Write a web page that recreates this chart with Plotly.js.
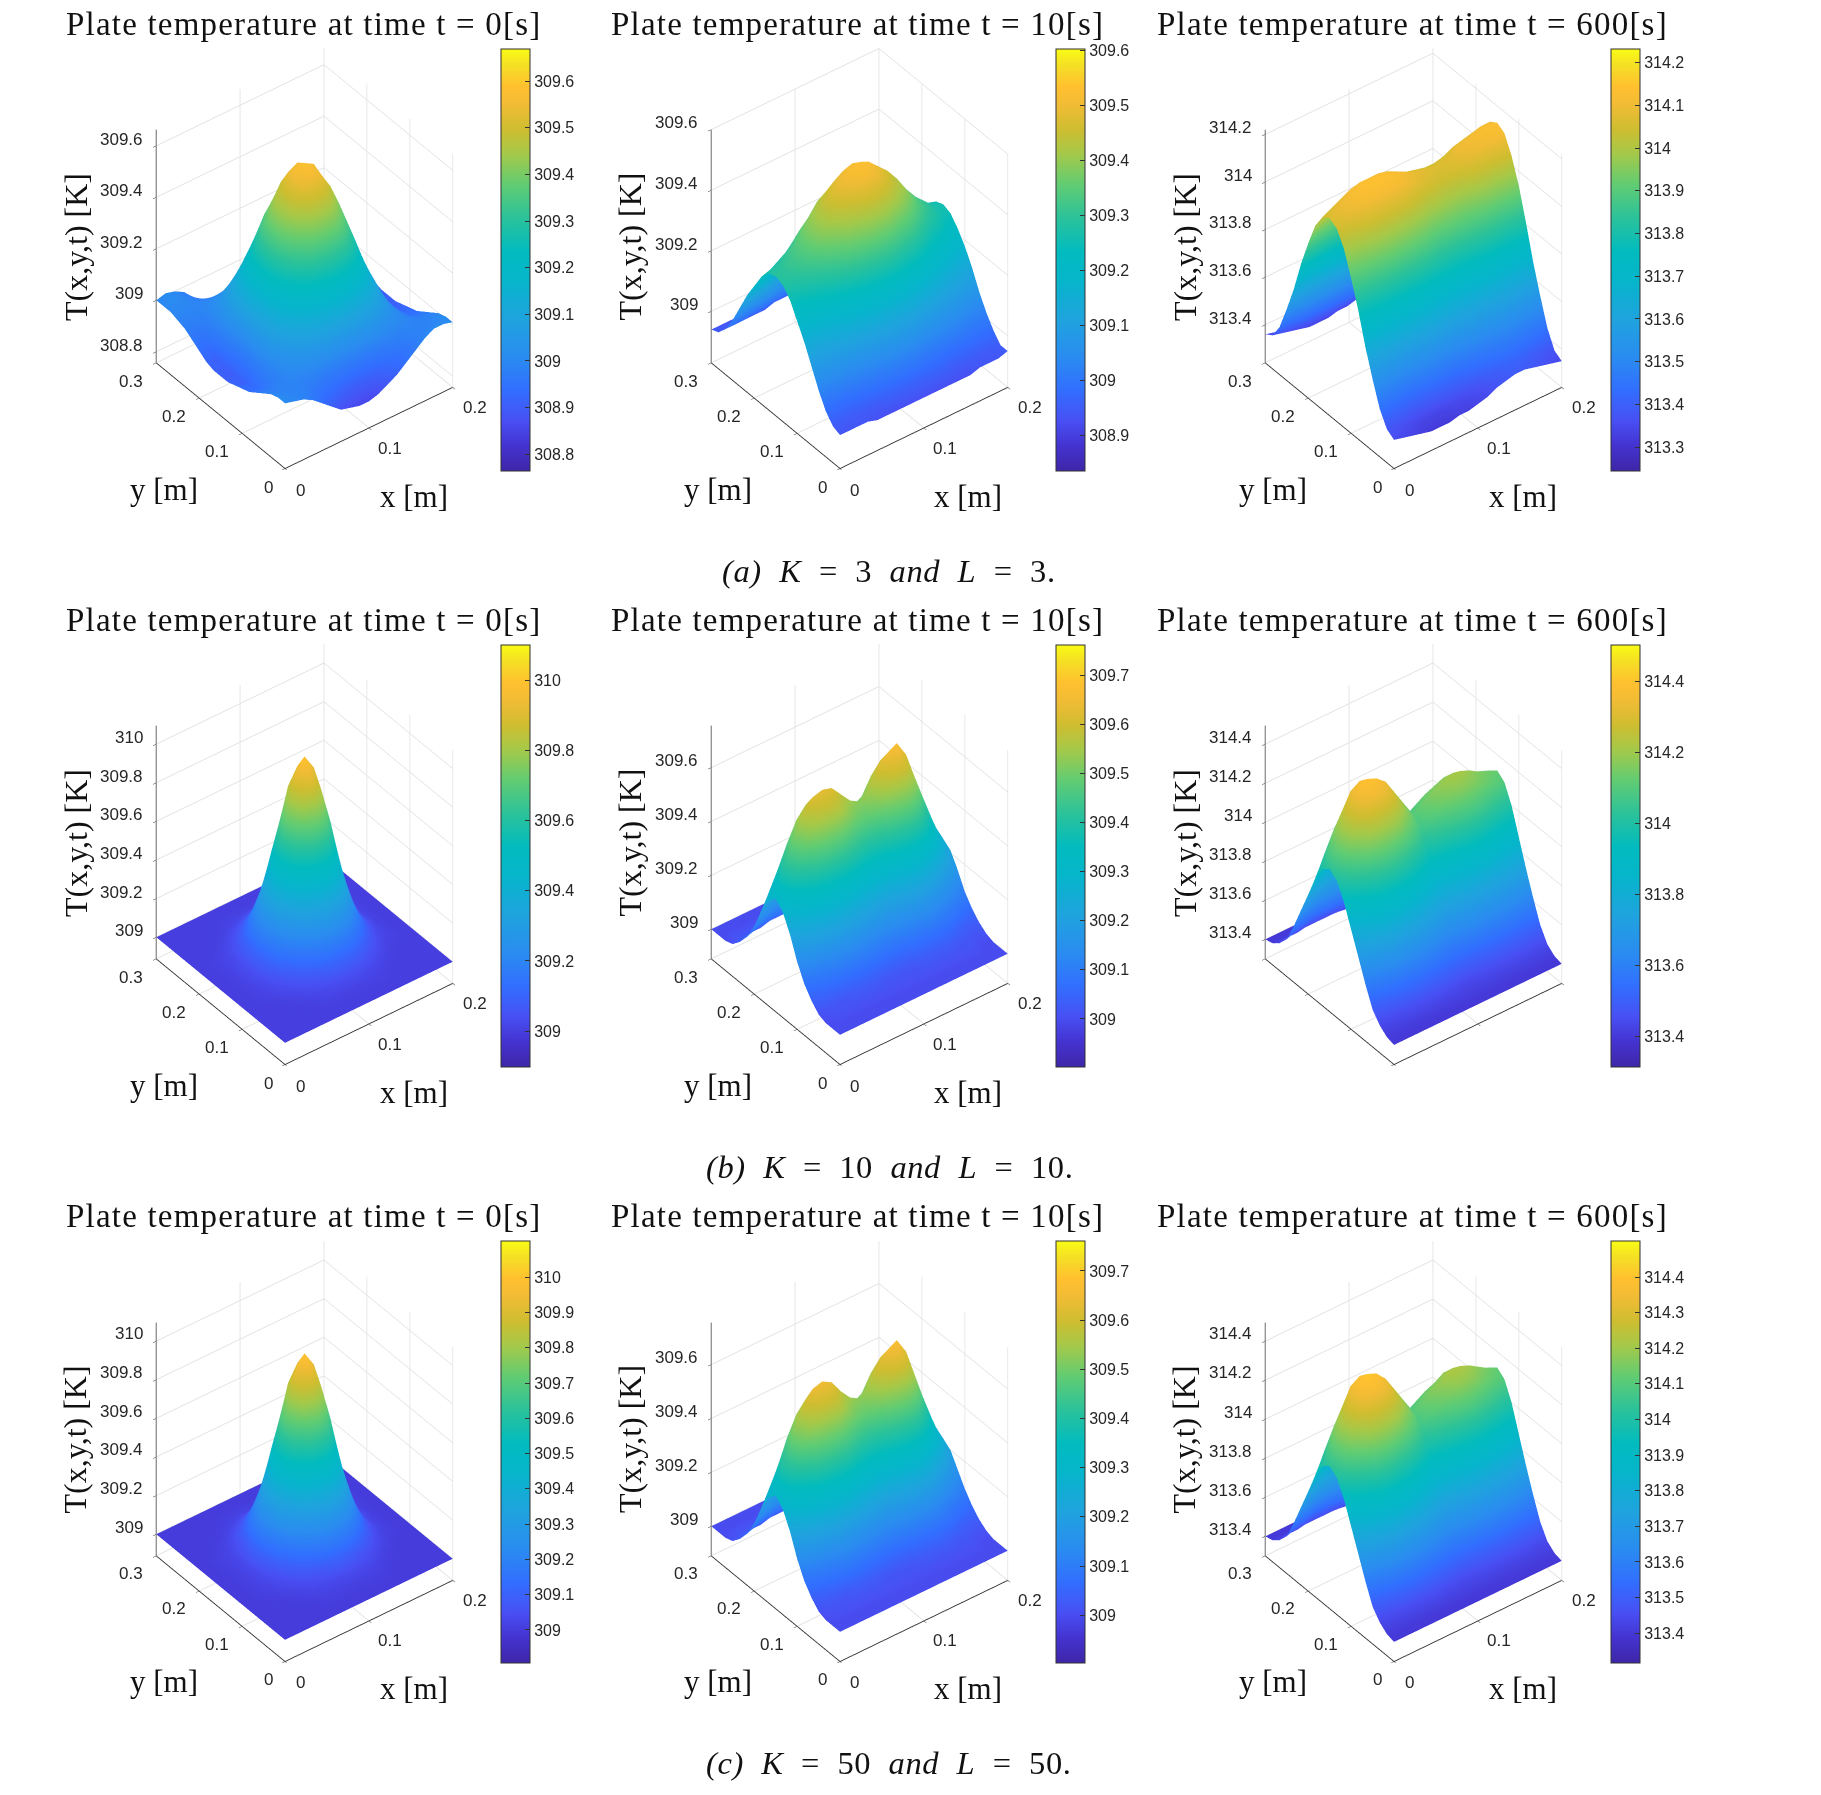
<!DOCTYPE html>
<html><head><meta charset="utf-8">
<script src="https://cdn.plot.ly/plotly-3.0.1.min.js"></script>
<style>html,body{margin:0;padding:0;background:#fff}#chart{width:1821px;height:1795px}
text[style*="font-size: 33px"]{letter-spacing:1.2px}
text[style*="font-size: 32.5px"]{letter-spacing:0.6px}</style>
</head><body><div id="chart"></div>
<script>
const xGrid=[0,0.0111,0.0222,0.0333,0.0444,0.0556,0.0667,0.0778,0.0889,0.1,0.1111,0.1222,0.1333,0.1444,0.1556,0.1667,0.1778,0.1889,0.2];
const yGrid=[0,0.0167,0.0333,0.05,0.0667,0.0833,0.1,0.1167,0.1333,0.15,0.1667,0.1833,0.2,0.2167,0.2333,0.25,0.2667,0.2833,0.3];
const xTicks=[0,0.1,0.2];
const yTicks=[0,0.1,0.2,0.3];
const timeLabels=['0','10','600'];
const captions=['<i>(a)\u00a0 K</i>\u00a0 =\u00a0 3\u00a0 <i>and\u00a0 L</i>\u00a0 =\u00a0 3.','<i>(b)\u00a0 K</i>\u00a0 =\u00a0 10\u00a0 <i>and\u00a0 L</i>\u00a0 =\u00a0 10.','<i>(c)\u00a0 K</i>\u00a0 =\u00a0 50\u00a0 <i>and\u00a0 L</i>\u00a0 =\u00a0 50.'];

const zA1=[
[309.01,309.00,308.99,308.97,308.94,308.91,308.88,308.87,308.86,308.86,308.87,308.89,308.91,308.94,308.97,309.00,309.02,309.02,309.01],
[309.01,309.00,308.99,308.98,308.96,308.94,308.93,308.91,308.90,308.90,308.90,308.91,308.93,308.94,308.96,308.98,308.99,309.00,309.01],
[309.00,308.99,308.99,308.99,308.98,308.98,308.97,308.97,308.96,308.96,308.96,308.97,308.97,308.98,308.98,308.99,308.99,308.99,309.00],
[308.98,308.98,308.99,309.00,309.01,309.02,309.04,309.05,309.05,309.05,309.05,309.05,309.04,309.02,309.01,309.00,308.99,308.98,308.98],
[308.96,308.96,308.98,309.01,309.04,309.08,309.12,309.14,309.16,309.17,309.16,309.14,309.12,309.08,309.04,309.01,308.98,308.96,308.96],
[308.94,308.94,308.98,309.02,309.08,309.14,309.20,309.25,309.28,309.29,309.28,309.25,309.20,309.14,309.08,309.02,308.98,308.94,308.94],
[308.93,308.93,308.97,309.04,309.12,309.20,309.28,309.35,309.39,309.40,309.39,309.35,309.28,309.20,309.12,309.04,308.97,308.93,308.93],
[308.92,308.91,308.97,309.05,309.14,309.25,309.35,309.42,309.48,309.49,309.48,309.42,309.35,309.25,309.14,309.05,308.97,308.91,308.92],
[308.91,308.91,308.96,309.05,309.16,309.28,309.39,309.48,309.54,309.56,309.54,309.48,309.39,309.28,309.16,309.05,308.96,308.91,308.91],
[308.91,308.90,308.96,309.05,309.17,309.29,309.40,309.49,309.56,309.58,309.56,309.49,309.40,309.29,309.17,309.05,308.96,308.90,308.91],
[308.91,308.91,308.96,309.05,309.16,309.28,309.39,309.48,309.54,309.56,309.54,309.48,309.39,309.28,309.16,309.05,308.96,308.91,308.91],
[308.92,308.91,308.97,309.05,309.14,309.25,309.35,309.42,309.48,309.49,309.48,309.42,309.35,309.25,309.14,309.05,308.97,308.91,308.92],
[308.94,308.93,308.97,309.04,309.12,309.20,309.28,309.35,309.39,309.40,309.39,309.35,309.28,309.20,309.12,309.04,308.97,308.93,308.93],
[308.96,308.95,308.98,309.02,309.08,309.14,309.20,309.25,309.28,309.29,309.28,309.25,309.20,309.14,309.08,309.02,308.98,308.94,308.94],
[308.98,308.97,308.98,309.01,309.04,309.08,309.12,309.14,309.16,309.17,309.16,309.14,309.12,309.08,309.04,309.01,308.98,308.96,308.96],
[308.99,308.99,308.99,309.00,309.01,309.02,309.04,309.05,309.05,309.05,309.05,309.05,309.04,309.02,309.01,309.00,308.99,308.98,308.98],
[309.00,309.00,309.00,308.99,308.98,308.98,308.97,308.97,308.96,308.96,308.96,308.97,308.97,308.98,308.98,308.99,308.99,308.99,309.00],
[309.00,309.01,309.00,308.98,308.96,308.94,308.93,308.91,308.90,308.90,308.90,308.91,308.93,308.94,308.96,308.98,308.99,309.00,309.01],
[309.00,309.01,309.00,308.98,308.94,308.91,308.89,308.88,308.88,308.88,308.89,308.90,308.91,308.93,308.96,308.99,309.01,309.01,309.01]];
const zA2=[
[308.94,308.94,308.94,308.94,308.93,308.93,308.93,308.93,308.93,308.93,308.93,308.93,308.93,308.93,308.93,308.94,308.94,308.94,308.95],
[308.95,308.95,308.95,308.95,308.95,308.95,308.96,308.96,308.96,308.96,308.96,308.96,308.96,308.95,308.95,308.95,308.95,308.95,308.95],
[308.98,308.98,308.98,308.99,308.99,309.00,309.00,309.01,309.01,309.01,309.01,309.00,309.00,308.99,308.99,308.99,308.98,308.98,308.98],
[309.03,309.03,309.04,309.04,309.05,309.06,309.07,309.08,309.09,309.09,309.09,309.08,309.07,309.06,309.05,309.04,309.03,309.02,309.02],
[309.09,309.09,309.10,309.11,309.13,309.14,309.16,309.17,309.18,309.18,309.18,309.17,309.16,309.14,309.12,309.10,309.09,309.08,309.07],
[309.15,309.15,309.16,309.18,309.20,309.23,309.25,309.27,309.28,309.29,309.28,309.26,309.25,309.22,309.19,309.17,309.15,309.13,309.13],
[309.20,309.21,309.23,309.25,309.28,309.31,309.34,309.36,309.38,309.38,309.38,309.35,309.33,309.30,309.26,309.23,309.21,309.19,309.18],
[309.25,309.26,309.28,309.30,309.34,309.37,309.41,309.43,309.45,309.46,309.45,309.43,309.40,309.36,309.32,309.28,309.26,309.23,309.22],
[309.28,309.29,309.31,309.34,309.38,309.42,309.45,309.48,309.50,309.51,309.50,309.47,309.44,309.41,309.36,309.32,309.29,309.26,309.25],
[309.29,309.30,309.32,309.35,309.39,309.43,309.47,309.50,309.52,309.53,309.52,309.49,309.46,309.42,309.37,309.33,309.30,309.27,309.26],
[309.28,309.29,309.31,309.34,309.38,309.42,309.45,309.48,309.50,309.51,309.50,309.47,309.44,309.41,309.36,309.32,309.29,309.26,309.25],
[309.25,309.26,309.28,309.30,309.34,309.37,309.41,309.43,309.45,309.46,309.45,309.43,309.40,309.36,309.32,309.28,309.26,309.23,309.22],
[309.20,309.21,309.23,309.25,309.28,309.31,309.34,309.36,309.38,309.38,309.38,309.35,309.33,309.30,309.26,309.23,309.21,309.19,309.18],
[309.15,309.15,309.16,309.18,309.20,309.23,309.25,309.27,309.28,309.29,309.28,309.26,309.25,309.22,309.19,309.17,309.15,309.13,309.13],
[309.09,309.09,309.10,309.11,309.13,309.14,309.16,309.17,309.18,309.18,309.18,309.17,309.16,309.14,309.12,309.10,309.09,309.08,309.07],
[309.03,309.03,309.04,309.04,309.05,309.06,309.07,309.08,309.09,309.09,309.09,309.08,309.07,309.06,309.05,309.04,309.03,309.02,309.02],
[308.98,308.98,308.98,308.99,308.99,309.00,309.00,309.01,309.01,309.01,309.01,309.00,309.00,308.99,308.99,308.99,308.98,308.98,308.98],
[308.95,308.95,308.95,308.95,308.95,308.95,308.96,308.96,308.96,308.96,308.96,308.96,308.96,308.95,308.95,308.95,308.95,308.95,308.95],
[308.94,308.94,308.94,308.94,308.94,308.94,308.94,308.94,308.94,308.94,308.94,308.94,308.94,308.94,308.94,308.94,308.94,308.94,308.94]];
const zA3=[
[313.36,313.35,313.34,313.33,313.32,313.32,313.32,313.33,313.33,313.34,313.35,313.37,313.38,313.39,313.39,313.38,313.37,313.36,313.35],
[313.38,313.37,313.36,313.35,313.34,313.34,313.34,313.35,313.35,313.36,313.37,313.39,313.40,313.41,313.41,313.40,313.39,313.38,313.37],
[313.44,313.44,313.43,313.42,313.42,313.42,313.42,313.42,313.42,313.43,313.44,313.45,313.46,313.47,313.47,313.47,313.46,313.45,313.44],
[313.54,313.54,313.53,313.53,313.53,313.53,313.53,313.53,313.53,313.53,313.54,313.55,313.55,313.56,313.57,313.56,313.56,313.55,313.55],
[313.65,313.66,313.66,313.66,313.66,313.66,313.66,313.66,313.65,313.65,313.65,313.66,313.67,313.68,313.68,313.68,313.68,313.68,313.67],
[313.78,313.78,313.79,313.80,313.80,313.80,313.80,313.80,313.79,313.78,313.78,313.78,313.79,313.80,313.81,313.81,313.81,313.82,313.81],
[313.89,313.91,313.92,313.93,313.94,313.94,313.94,313.93,313.92,313.90,313.90,313.90,313.90,313.91,313.92,313.93,313.93,313.94,313.94],
[313.99,314.00,314.02,314.04,314.04,314.04,314.04,314.04,314.02,314.00,314.00,313.99,313.99,314.00,314.02,314.03,314.03,314.04,314.04],
[314.05,314.07,314.09,314.11,314.12,314.12,314.12,314.11,314.09,314.07,314.06,314.05,314.05,314.06,314.08,314.09,314.10,314.11,314.11],
[314.07,314.09,314.11,314.13,314.14,314.14,314.14,314.13,314.11,314.09,314.08,314.07,314.07,314.08,314.10,314.11,314.12,314.13,314.13],
[314.05,314.07,314.09,314.11,314.12,314.12,314.12,314.11,314.09,314.07,314.06,314.05,314.05,314.06,314.08,314.09,314.10,314.11,314.11],
[313.99,314.00,314.02,314.04,314.04,314.04,314.04,314.04,314.02,314.00,314.00,313.99,313.99,314.00,314.02,314.03,314.03,314.04,314.04],
[313.89,313.91,313.92,313.93,313.94,313.94,313.94,313.93,313.92,313.90,313.90,313.90,313.90,313.91,313.92,313.93,313.93,313.94,313.94],
[313.78,313.78,313.79,313.80,313.80,313.80,313.80,313.80,313.79,313.78,313.78,313.78,313.79,313.80,313.81,313.81,313.81,313.82,313.81],
[313.65,313.66,313.66,313.66,313.66,313.66,313.66,313.66,313.65,313.65,313.65,313.66,313.67,313.68,313.68,313.68,313.68,313.68,313.67],
[313.54,313.54,313.53,313.53,313.53,313.53,313.53,313.53,313.53,313.53,313.54,313.55,313.55,313.56,313.57,313.56,313.56,313.55,313.55],
[313.44,313.44,313.43,313.42,313.42,313.42,313.42,313.42,313.42,313.43,313.44,313.45,313.46,313.47,313.47,313.47,313.46,313.45,313.44],
[313.38,313.37,313.36,313.35,313.34,313.34,313.34,313.35,313.35,313.36,313.37,313.39,313.40,313.41,313.41,313.40,313.39,313.38,313.37],
[313.36,313.35,313.34,313.33,313.32,313.32,313.32,313.33,313.33,313.34,313.35,313.37,313.38,313.39,313.39,313.38,313.37,313.36,313.35]];
const zB1=[
[309,309,309,309,309,309,309,309,309,309,309,309,309,309,309,309,309,309,309],
[309,309,309,309,309,309,309,309,309,309,309,309,309,309,309,309,309,309,309],
[309,309,309,309,309,309,309.01,309.01,309.01,309.01,309.01,309.01,309.01,309,309,309,309,309,309],
[309,309,309,309,309,309.01,309.02,309.03,309.04,309.04,309.04,309.03,309.02,309.01,309,309,309,309,309],
[309,309,309,309,309.01,309.03,309.05,309.08,309.10,309.11,309.10,309.08,309.05,309.03,309.01,309,309,309,309],
[309,309,309,309.01,309.03,309.06,309.11,309.18,309.23,309.25,309.23,309.18,309.11,309.06,309.03,309.01,309,309,309],
[309,309,309.01,309.02,309.05,309.11,309.21,309.32,309.42,309.46,309.42,309.32,309.21,309.11,309.05,309.02,309.01,309,309],
[309,309,309.01,309.03,309.08,309.18,309.32,309.50,309.65,309.71,309.65,309.50,309.32,309.18,309.08,309.03,309.01,309,309],
[309,309,309.01,309.04,309.10,309.23,309.42,309.65,309.84,309.92,309.84,309.65,309.42,309.23,309.10,309.04,309.01,309,309],
[309,309,309.01,309.04,309.11,309.25,309.46,309.71,309.92,310.00,309.92,309.71,309.46,309.25,309.11,309.04,309.01,309,309],
[309,309,309.01,309.04,309.10,309.23,309.42,309.65,309.84,309.92,309.84,309.65,309.42,309.23,309.10,309.04,309.01,309,309],
[309,309,309.01,309.03,309.08,309.18,309.32,309.50,309.65,309.71,309.65,309.50,309.32,309.18,309.08,309.03,309.01,309,309],
[309,309,309.01,309.02,309.05,309.11,309.21,309.32,309.42,309.46,309.42,309.32,309.21,309.11,309.05,309.02,309.01,309,309],
[309,309,309,309.01,309.03,309.06,309.11,309.18,309.23,309.25,309.23,309.18,309.11,309.06,309.03,309.01,309,309,309],
[309,309,309,309,309.01,309.03,309.05,309.08,309.10,309.11,309.10,309.08,309.05,309.03,309.01,309,309,309,309],
[309,309,309,309,309,309.01,309.02,309.03,309.04,309.04,309.04,309.03,309.02,309.01,309,309,309,309,309],
[309,309,309,309,309,309,309.01,309.01,309.01,309.01,309.01,309.01,309.01,309,309,309,309,309,309],
[309,309,309,309,309,309,309,309,309,309,309,309,309,309,309,309,309,309,309],
[309,309,309,309,309,309,309,309,309,309,309,309,309,309,309,309,309,309,309]];
const zB2=[
[309,309,309,309,309,309,309,309,309,309,309,309,309,309,309,309,309,309,309],
[309,309,309,309,309,309,309,309,309,309,309,309,309,309,309,309,309,309,309],
[309,309.01,309.01,309.01,309.01,309.01,309.01,309.01,309.01,309.01,309.01,309.01,309.01,309.01,309.01,309.01,309.01,309,309],
[309.01,309.02,309.02,309.02,309.03,309.03,309.03,309.02,309.02,309.02,309.02,309.03,309.03,309.03,309.03,309.02,309.02,309.01,309.01],
[309.04,309.05,309.06,309.07,309.07,309.07,309.07,309.07,309.06,309.06,309.06,309.07,309.07,309.08,309.07,309.06,309.04,309.03,309.03],
[309.08,309.10,309.12,309.14,309.15,309.16,309.15,309.14,309.13,309.13,309.14,309.15,309.16,309.17,309.15,309.12,309.10,309.07,309.06],
[309.14,309.19,309.23,309.26,309.28,309.29,309.28,309.26,309.25,309.24,309.25,309.28,309.30,309.31,309.28,309.23,309.18,309.14,309.10],
[309.22,309.29,309.35,309.41,309.44,309.44,309.44,309.41,309.38,309.37,309.39,309.43,309.46,309.47,309.43,309.35,309.28,309.21,309.16],
[309.28,309.38,309.46,309.53,309.57,309.58,309.57,309.53,309.49,309.48,309.50,309.56,309.60,309.61,309.56,309.46,309.36,309.27,309.21],
[309.31,309.41,309.50,309.58,309.62,309.63,309.62,309.58,309.54,309.52,309.55,309.61,309.65,309.67,309.61,309.50,309.39,309.30,309.23],
[309.28,309.38,309.46,309.53,309.57,309.58,309.57,309.53,309.49,309.48,309.50,309.56,309.60,309.61,309.56,309.46,309.36,309.27,309.21],
[309.22,309.29,309.35,309.41,309.44,309.44,309.44,309.41,309.38,309.37,309.39,309.43,309.46,309.47,309.43,309.35,309.28,309.21,309.16],
[309.14,309.19,309.23,309.26,309.28,309.29,309.28,309.26,309.25,309.24,309.25,309.28,309.30,309.31,309.28,309.23,309.18,309.14,309.10],
[309.08,309.10,309.12,309.14,309.15,309.16,309.15,309.14,309.13,309.13,309.14,309.15,309.16,309.17,309.15,309.12,309.10,309.07,309.06],
[309.04,309.05,309.06,309.07,309.07,309.07,309.07,309.07,309.06,309.06,309.06,309.07,309.07,309.08,309.07,309.06,309.04,309.03,309.03],
[309.01,309.02,309.02,309.02,309.03,309.03,309.03,309.02,309.02,309.02,309.02,309.03,309.03,309.03,309.03,309.02,309.02,309.01,309.01],
[309,309.01,309.01,309.01,309.01,309.01,309.01,309.01,309.01,309.01,309.01,309.01,309.01,309.01,309.01,309.01,309.01,309,309],
[309,309,309,309,309,309,309,309,309,309,309,309,309,309,309,309,309,309,309],
[309,309,309,309,309,309,309,309,309,309,309,309,309,309,309,309,309,309,309]];
const zB3=[
[313.40,313.40,313.40,313.40,313.40,313.40,313.40,313.40,313.40,313.40,313.40,313.40,313.40,313.40,313.40,313.40,313.40,313.40,313.40],
[313.41,313.41,313.41,313.41,313.41,313.41,313.41,313.41,313.41,313.41,313.41,313.41,313.41,313.41,313.41,313.41,313.41,313.41,313.41],
[313.44,313.45,313.45,313.46,313.46,313.46,313.46,313.45,313.45,313.44,313.44,313.45,313.45,313.45,313.45,313.45,313.45,313.44,313.44],
[313.49,313.51,313.53,313.55,313.55,313.55,313.54,313.53,313.52,313.51,313.51,313.51,313.52,313.52,313.52,313.52,313.51,313.51,313.51],
[313.59,313.63,313.66,313.69,313.70,313.69,313.68,313.66,313.63,313.61,313.62,313.63,313.64,313.64,313.64,313.64,313.63,313.62,313.62],
[313.70,313.76,313.81,313.86,313.87,313.86,313.84,313.80,313.77,313.73,313.74,313.76,313.77,313.78,313.78,313.77,313.76,313.75,313.74],
[313.81,313.89,313.97,314.03,314.05,314.04,314.01,313.96,313.91,313.86,313.87,313.89,313.91,313.93,313.93,313.91,313.89,313.88,313.87],
[313.92,314.03,314.13,314.21,314.23,314.21,314.18,314.11,314.05,313.98,314.01,314.03,314.06,314.07,314.07,314.06,314.03,314.01,314.00],
[314.00,314.13,314.24,314.33,314.36,314.34,314.30,314.22,314.14,314.07,314.10,314.13,314.15,314.17,314.17,314.15,314.13,314.11,314.09],
[314.03,314.16,314.28,314.37,314.40,314.38,314.34,314.26,314.18,314.10,314.13,314.16,314.19,314.21,314.21,314.19,314.16,314.14,314.12],
[314.00,314.13,314.24,314.33,314.36,314.34,314.30,314.22,314.14,314.07,314.10,314.13,314.15,314.17,314.17,314.15,314.13,314.11,314.09],
[313.92,314.03,314.13,314.21,314.23,314.21,314.18,314.11,314.05,313.98,314.01,314.03,314.06,314.07,314.07,314.06,314.03,314.01,314.00],
[313.81,313.89,313.97,314.03,314.05,314.04,314.01,313.96,313.91,313.86,313.87,313.89,313.91,313.93,313.93,313.91,313.89,313.88,313.87],
[313.70,313.76,313.81,313.86,313.87,313.86,313.84,313.80,313.77,313.73,313.74,313.76,313.77,313.78,313.78,313.77,313.76,313.75,313.74],
[313.59,313.63,313.66,313.69,313.70,313.69,313.68,313.66,313.63,313.61,313.62,313.63,313.64,313.64,313.64,313.64,313.63,313.62,313.62],
[313.49,313.51,313.53,313.55,313.55,313.55,313.54,313.53,313.52,313.51,313.51,313.51,313.52,313.52,313.52,313.52,313.51,313.51,313.51],
[313.44,313.45,313.45,313.46,313.46,313.46,313.46,313.45,313.45,313.44,313.44,313.45,313.45,313.45,313.45,313.45,313.45,313.44,313.44],
[313.41,313.41,313.41,313.41,313.41,313.41,313.41,313.41,313.41,313.41,313.41,313.41,313.41,313.41,313.41,313.41,313.41,313.41,313.41],
[313.40,313.40,313.40,313.40,313.40,313.40,313.40,313.40,313.40,313.40,313.40,313.40,313.40,313.40,313.40,313.40,313.40,313.40,313.40]];
const zC1=[
[309,309,309,309,309,309,309,309,309,309,309,309,309,309,309,309,309,309,309],
[309,309,309,309,309,309,309,309,309,309,309,309,309,309,309,309,309,309,309],
[309,309,309,309,309,309,309.01,309.01,309.01,309.01,309.01,309.01,309.01,309,309,309,309,309,309],
[309,309,309,309,309,309.01,309.02,309.03,309.03,309.04,309.03,309.03,309.02,309.01,309,309,309,309,309],
[309,309,309,309,309.01,309.03,309.05,309.07,309.10,309.11,309.10,309.07,309.05,309.03,309.01,309,309,309,309],
[309,309,309,309.01,309.03,309.06,309.11,309.18,309.23,309.25,309.23,309.18,309.11,309.06,309.03,309.01,309,309,309],
[309,309,309.01,309.02,309.05,309.11,309.21,309.32,309.42,309.46,309.42,309.32,309.21,309.11,309.05,309.02,309.01,309,309],
[309,309,309.01,309.03,309.07,309.18,309.32,309.50,309.65,309.71,309.65,309.50,309.32,309.18,309.07,309.03,309.01,309,309],
[309,309,309.01,309.03,309.10,309.23,309.42,309.65,309.84,309.92,309.84,309.65,309.42,309.23,309.10,309.03,309.01,309,309],
[309,309,309.01,309.04,309.11,309.25,309.46,309.71,309.92,310.00,309.92,309.71,309.46,309.25,309.11,309.04,309.01,309,309],
[309,309,309.01,309.03,309.10,309.23,309.42,309.65,309.84,309.92,309.84,309.65,309.42,309.23,309.10,309.03,309.01,309,309],
[309,309,309.01,309.03,309.07,309.18,309.32,309.50,309.65,309.71,309.65,309.50,309.32,309.18,309.07,309.03,309.01,309,309],
[309,309,309.01,309.02,309.05,309.11,309.21,309.32,309.42,309.46,309.42,309.32,309.21,309.11,309.05,309.02,309.01,309,309],
[309,309,309,309.01,309.03,309.06,309.11,309.18,309.23,309.25,309.23,309.18,309.11,309.06,309.03,309.01,309,309,309],
[309,309,309,309,309.01,309.03,309.05,309.07,309.10,309.11,309.10,309.07,309.05,309.03,309.01,309,309,309,309],
[309,309,309,309,309,309.01,309.02,309.03,309.03,309.04,309.03,309.03,309.02,309.01,309,309,309,309,309],
[309,309,309,309,309,309,309.01,309.01,309.01,309.01,309.01,309.01,309.01,309,309,309,309,309,309],
[309,309,309,309,309,309,309,309,309,309,309,309,309,309,309,309,309,309,309],
[309,309,309,309,309,309,309,309,309,309,309,309,309,309,309,309,309,309,309]];
const zC2=[
[309,309,309,309,309,309,309,309,309,309,309,309,309,309,309,309,309,309,309],
[309,309,309,309,309,309,309,309,309,309,309,309,309,309,309,309,309,309,309],
[309,309.01,309.01,309.01,309.01,309.01,309.01,309.01,309.01,309.01,309.01,309.01,309.01,309.01,309.01,309.01,309.01,309,309],
[309.01,309.02,309.02,309.02,309.03,309.03,309.03,309.02,309.02,309.02,309.02,309.03,309.03,309.03,309.03,309.02,309.02,309.01,309.01],
[309.04,309.05,309.06,309.07,309.08,309.08,309.07,309.07,309.06,309.06,309.06,309.07,309.07,309.08,309.07,309.06,309.04,309.03,309.03],
[309.08,309.10,309.12,309.14,309.16,309.16,309.15,309.14,309.13,309.13,309.14,309.15,309.16,309.17,309.15,309.12,309.09,309.07,309.06],
[309.14,309.19,309.23,309.26,309.29,309.30,309.29,309.26,309.25,309.24,309.25,309.28,309.30,309.31,309.28,309.22,309.17,309.13,309.10],
[309.22,309.29,309.35,309.42,309.45,309.45,309.45,309.41,309.38,309.37,309.39,309.43,309.46,309.47,309.43,309.34,309.27,309.20,309.15],
[309.28,309.38,309.47,309.54,309.58,309.59,309.58,309.53,309.49,309.48,309.50,309.56,309.60,309.61,309.56,309.45,309.35,309.26,309.20],
[309.31,309.41,309.51,309.59,309.64,309.65,309.63,309.58,309.54,309.52,309.55,309.61,309.65,309.67,309.61,309.49,309.38,309.29,309.22],
[309.28,309.38,309.47,309.54,309.58,309.59,309.58,309.53,309.49,309.48,309.50,309.56,309.60,309.61,309.56,309.45,309.35,309.26,309.20],
[309.22,309.29,309.35,309.42,309.45,309.45,309.45,309.41,309.38,309.37,309.39,309.43,309.46,309.47,309.43,309.34,309.27,309.20,309.15],
[309.14,309.19,309.23,309.26,309.29,309.30,309.29,309.26,309.25,309.24,309.25,309.28,309.30,309.31,309.28,309.22,309.17,309.13,309.10],
[309.08,309.10,309.12,309.14,309.16,309.16,309.15,309.14,309.13,309.13,309.14,309.15,309.16,309.17,309.15,309.12,309.09,309.07,309.06],
[309.04,309.05,309.06,309.07,309.08,309.08,309.07,309.07,309.06,309.06,309.06,309.07,309.07,309.08,309.07,309.06,309.04,309.03,309.03],
[309.01,309.02,309.02,309.02,309.03,309.03,309.03,309.02,309.02,309.02,309.02,309.03,309.03,309.03,309.03,309.02,309.02,309.01,309.01],
[309,309.01,309.01,309.01,309.01,309.01,309.01,309.01,309.01,309.01,309.01,309.01,309.01,309.01,309.01,309.01,309.01,309,309],
[309,309,309,309,309,309,309,309,309,309,309,309,309,309,309,309,309,309,309],
[309,309,309,309,309,309,309,309,309,309,309,309,309,309,309,309,309,309,309]];
const zC3=[
[313.40,313.40,313.40,313.40,313.40,313.40,313.40,313.40,313.40,313.40,313.40,313.40,313.40,313.40,313.40,313.40,313.40,313.40,313.40],
[313.41,313.41,313.41,313.41,313.41,313.41,313.41,313.41,313.41,313.41,313.41,313.41,313.41,313.41,313.41,313.41,313.41,313.41,313.41],
[313.44,313.45,313.45,313.46,313.46,313.46,313.46,313.45,313.45,313.44,313.44,313.45,313.45,313.45,313.45,313.45,313.45,313.44,313.44],
[313.49,313.51,313.53,313.55,313.56,313.55,313.54,313.53,313.52,313.51,313.51,313.51,313.52,313.52,313.52,313.52,313.51,313.51,313.51],
[313.59,313.63,313.66,313.69,313.70,313.69,313.68,313.66,313.63,313.61,313.62,313.63,313.64,313.65,313.65,313.64,313.63,313.62,313.62],
[313.70,313.76,313.81,313.86,313.88,313.86,313.84,313.80,313.77,313.73,313.74,313.76,313.77,313.78,313.78,313.77,313.76,313.75,313.74],
[313.81,313.89,313.97,314.04,314.06,314.04,314.01,313.96,313.91,313.86,313.87,313.89,313.91,313.93,313.93,313.91,313.90,313.88,313.87],
[313.92,314.03,314.13,314.22,314.24,314.22,314.18,314.11,314.05,313.98,314.01,314.03,314.06,314.08,314.08,314.06,314.04,314.01,314.00],
[314.00,314.13,314.24,314.34,314.37,314.35,314.30,314.22,314.14,314.07,314.10,314.13,314.15,314.18,314.18,314.16,314.13,314.11,314.09],
[314.03,314.16,314.28,314.38,314.41,314.39,314.34,314.26,314.18,314.10,314.13,314.16,314.19,314.22,314.22,314.20,314.17,314.14,314.12],
[314.00,314.13,314.24,314.34,314.37,314.35,314.30,314.22,314.14,314.07,314.10,314.13,314.15,314.18,314.18,314.16,314.13,314.11,314.09],
[313.92,314.03,314.13,314.22,314.24,314.22,314.18,314.11,314.05,313.98,314.01,314.03,314.06,314.08,314.08,314.06,314.04,314.01,314.00],
[313.81,313.89,313.97,314.04,314.06,314.04,314.01,313.96,313.91,313.86,313.87,313.89,313.91,313.93,313.93,313.91,313.90,313.88,313.87],
[313.70,313.76,313.81,313.86,313.88,313.86,313.84,313.80,313.77,313.73,313.74,313.76,313.77,313.78,313.78,313.77,313.76,313.75,313.74],
[313.59,313.63,313.66,313.69,313.70,313.69,313.68,313.66,313.63,313.61,313.62,313.63,313.64,313.65,313.65,313.64,313.63,313.62,313.62],
[313.49,313.51,313.53,313.55,313.56,313.55,313.54,313.53,313.52,313.51,313.51,313.51,313.52,313.52,313.52,313.52,313.51,313.51,313.51],
[313.44,313.45,313.45,313.46,313.46,313.46,313.46,313.45,313.45,313.44,313.44,313.45,313.45,313.45,313.45,313.45,313.45,313.44,313.44],
[313.41,313.41,313.41,313.41,313.41,313.41,313.41,313.41,313.41,313.41,313.41,313.41,313.41,313.41,313.41,313.41,313.41,313.41,313.41],
[313.40,313.40,313.40,313.40,313.40,313.40,313.40,313.40,313.40,313.40,313.40,313.40,313.40,313.40,313.40,313.40,313.40,313.40,313.40]];

const zRanges=[[308.757,309.663],[308.83,309.60],[313.24,314.22],[308.888,310.096],[308.89,309.756],[313.30,314.495],[308.888,310.096],[308.89,309.756],[313.30,314.495]];
const cbRanges=[[308.764,309.669],[308.836,309.603],[313.244,314.232],[308.898,310.10],[308.902,309.762],[313.315,314.503],[308.905,310.102],[308.902,309.76],[313.315,314.50]];
const zTickSets=[[308.8,309,309.2,309.4,309.6],[309,309.2,309.4,309.6],[313.4,313.6,313.8,314,314.2],[309,309.2,309.4,309.6,309.8,310],[309,309.2,309.4,309.6],[313.4,313.6,313.8,314,314.2,314.4],[309,309.2,309.4,309.6,309.8,310],[309,309.2,309.4,309.6],[313.4,313.6,313.8,314,314.2,314.4]];
const cbTickSets=[
[308.8,308.9,309,309.1,309.2,309.3,309.4,309.5,309.6],
[308.9,309,309.1,309.2,309.3,309.4,309.5,309.6],
[313.3,313.4,313.5,313.6,313.7,313.8,313.9,314,314.1,314.2],
[309,309.2,309.4,309.6,309.8,310],
[309,309.1,309.2,309.3,309.4,309.5,309.6,309.7],
[313.4,313.6,313.8,314,314.2,314.4],
[309,309.1,309.2,309.3,309.4,309.5,309.6,309.7,309.8,309.9,310],
[309,309.1,309.2,309.3,309.4,309.5,309.6,309.7],
[313.4,313.5,313.6,313.7,313.8,313.9,314,314.1,314.2,314.3,314.4]];
const surfaces=[zA1,zA2,zA3,zB1,zB2,zB3,zC1,zC2,zC3];

const parula=[[0,'#3e26a8'],[0.06,'#4433d0'],[0.12,'#4850f4'],[0.19,'#326eff'],[0.27,'#2a8cf0'],[0.36,'#1fa3de'],[0.45,'#06b5cb'],[0.52,'#02bbbf'],[0.6,'#2bc29a'],[0.68,'#62cc72'],[0.75,'#a3c94a'],[0.81,'#cfbd30'],[0.87,'#f2bc35'],[0.91,'#ffc030'],[0.96,'#f5de25'],[1,'#f9fb15']];

const W=1821,H=1795;
const serif='"Liberation Serif",serif', sans='"Liberation Sans",Arial,sans-serif';
const tickCol='#262626';
const colX=[0,554.5,1109], rowY=[0,596,1192.4];
const cbX=[501.4,1056.4,1610.5];
const half=211.6;
const eye={x:-0.473,y:-0.616,z:0.63};

function tickAnn(x,y,z,t,xs,ys,anchor){return {x,y,z,text:t,showarrow:false,xanchor:anchor||'center',yanchor:'middle',xshift:xs,yshift:ys,font:{family:sans,size:17,color:tickCol}};}
function titleAnn(x,y,z,t,xs,ys,ang,size){return {x,y,z,text:t,showarrow:false,xanchor:'center',yanchor:'middle',xshift:xs,yshift:ys,textangle:ang||0,font:{family:serif,size:size||31,color:'#111'}};}

const data=[],layout={width:W,height:H,margin:{l:0,r:0,t:0,b:0},paper_bgcolor:'#fff',showlegend:false,annotations:[]};
surfaces.forEach((z,k)=>{
  const c=k%3,r=Math.floor(k/3),name='scene'+(k===0?'':k+1);
  const cx=304.8+colX[c],cy=258.9+rowY[r];
  const zr=zRanges[k],cb=cbRanges[k];
  data.push({type:'surface',scene:name,x:xGrid,y:yGrid,z:z,cmin:cb[0],cmax:cb[1],colorscale:parula,hoverinfo:'skip',
    lighting:{ambient:1,diffuse:0,specular:0,fresnel:0,roughness:1},
    colorbar:{x:cbX[c]/W,xanchor:'left',xpad:0,ypad:0,y:1-(260+rowY[r])/H,yanchor:'middle',len:422/H,thickness:29,thicknessmode:'pixels',
      outlinecolor:'#333',outlinewidth:1,borderwidth:0,ticks:'inside',ticklen:5,tickcolor:'#333',tickvals:cbTickSets[k],ticktext:cbTickSets[k].map(String),
      tickfont:{family:sans,size:16,color:tickCol}}});
  const ax=(rng,vals,lc)=>({range:rng,tickmode:'array',tickvals:vals,ticktext:vals.map(String),showticklabels:false,title:{text:''},ticks:'outside',ticklen:4,tickcolor:'#333',tickwidth:1,
    showgrid:true,gridcolor:'#e2e2e2',gridwidth:2,zeroline:false,showline:true,linecolor:lc,linewidth:2,showbackground:false,showspikes:false,autorange:false});
  const zm=zr[0];
  const anns=[];
  xTicks.forEach(v=>anns.push(tickAnn(v,0,zm,String(v),v===0?15:(v===0.1?21:22),v===0?-21:-20)));
  yTicks.forEach(v=>anns.push(tickAnn(0,v,zm,String(v),v===0?-17:-25,-18)));
  zTickSets[k].forEach(v=>anns.push(tickAnn(0,0.3,v,String(v),-11,7,'right')));
  anns.push(titleAnn(0.1,0,zm,'x [m]',44.5,-68));
  anns.push(titleAnn(0,0.15,zm,'y [m]',-57,-73));
  anns.push(titleAnn(0,0.3,(zr[0]+zr[1])/2,'T(x,y,t) [K]',-81,0,-90,32));
  layout[name]={domain:{x:[(cx-half)/W,(cx+half)/W],y:[1-(cy+half)/H,1-(cy-half)/H]},bgcolor:'rgba(0,0,0,0)',
    aspectmode:'manual',aspectratio:{x:1,y:1,z:1.42},
    camera:{eye:eye,center:{x:0,y:0,z:0},up:{x:0,y:0,z:1},projection:{type:'orthographic'}},
    xaxis:ax([0,0.2],xTicks,'#333'),yaxis:ax([0,0.3],yTicks,'#333'),zaxis:ax(zr,zTickSets[k],'#555'),annotations:anns};
  layout.annotations.push({xref:'paper',yref:'paper',x:(303.3+colX[c])/W,y:1-(23.7+rowY[r])/H,text:'Plate temperature at time t = '+timeLabels[c]+'[s]',showarrow:false,xanchor:'center',yanchor:'middle',font:{family:serif,size:33,color:'#111'}});
});
[571,1167,1763].forEach((y,i)=>layout.annotations.push({xref:'paper',yref:'paper',x:889/W,y:1-y/H,text:captions[i],showarrow:false,xanchor:'center',yanchor:'middle',font:{family:serif,size:32.5,color:'#111'}}));
Plotly.newPlot('chart',data,layout,{displayModeBar:false});
</script></body></html>
